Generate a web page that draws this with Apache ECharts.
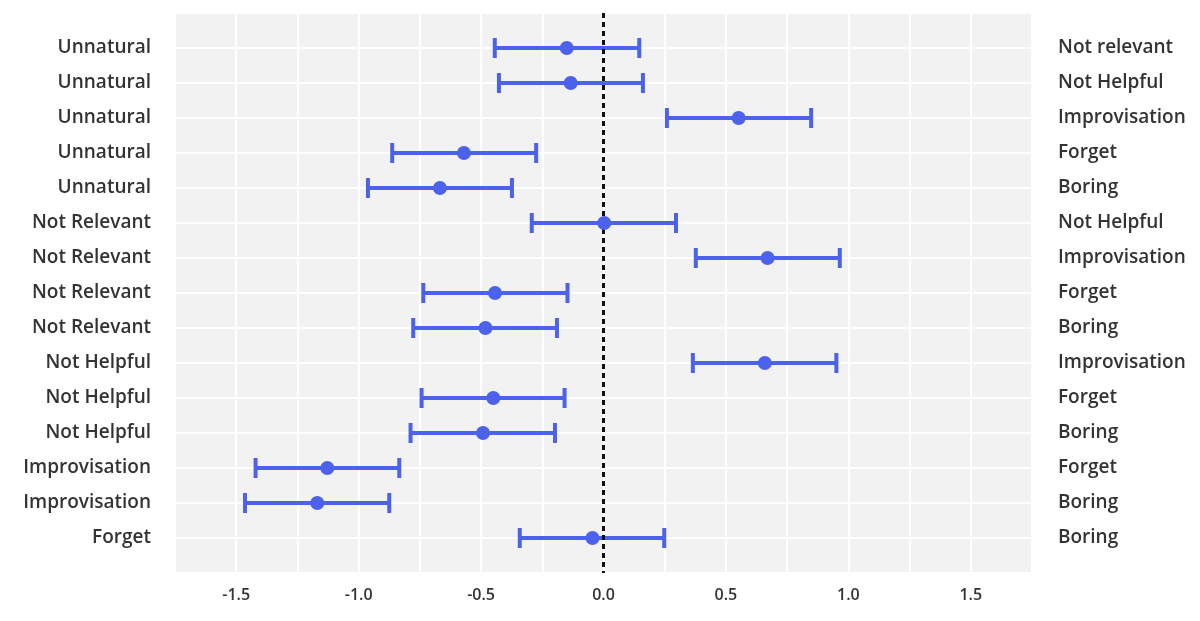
<!DOCTYPE html>
<html>
<head>
<meta charset="utf-8">
<script src="https://cdn.jsdelivr.net/npm/echarts@6/dist/echarts.min.js"></script>
<style>html,body{margin:0;padding:0;background:#fff}#c{width:1200px;height:621px}</style>
</head>
<body>
<div id="c"></div>
<script>
const leftLabels = ["Unnatural","Unnatural","Unnatural","Unnatural","Unnatural","Not Relevant","Not Relevant","Not Relevant","Not Relevant","Not Helpful","Not Helpful","Not Helpful","Improvisation","Improvisation","Forget"];
const rightLabels = ["Not relevant","Not Helpful","Improvisation","Forget","Boring","Not Helpful","Improvisation","Forget","Boring","Improvisation","Forget","Boring","Forget","Boring","Boring"];
const estimates = [-0.150,-0.134,0.552,-0.570,-0.668,0.003,0.670,-0.443,-0.482,0.659,-0.450,-0.492,-1.128,-1.169,-0.045];
const lower = [-0.444,-0.427,0.259,-0.863,-0.962,-0.293,0.377,-0.736,-0.777,0.365,-0.743,-0.788,-1.421,-1.464,-0.342];
const upper = [0.146,0.161,0.848,-0.275,-0.374,0.296,0.965,-0.147,-0.190,0.951,-0.159,-0.198,-0.834,-0.875,0.248];

const BLUE = '#4d62ec';
const FONT = "'Open Sans', 'Noto Sans', sans-serif";

const pointData = estimates.map((v, i) => [v, i]);
const barData = estimates.map((v, i) => [lower[i], upper[i], i]);

const chart = echarts.init(document.getElementById('c'), null, {renderer: 'canvas'});
const yLabel = (arr) => (v) => {
  const i = Math.round(v);
  return (Math.abs(v - i) < 1e-6 && i >= 0 && i < arr.length) ? arr[i] : '';
};
chart.setOption({
  animation: false,
  backgroundColor: '#ffffff',
  grid: {left: 175, right: 168, top: 13, bottom: 48, show: true, backgroundColor: '#f2f2f2', borderWidth: 0, containLabel: false},
  xAxis: {
    type: 'value', min: -1.75, max: 1.75, interval: 0.25,
    axisLine: {show: false}, axisTick: {show: false},
    splitLine: {show: true, lineStyle: {color: '#ffffff', width: 2}},
    axisLabel: {
      color: '#333', fontSize: 16, fontFamily: FONT, fontWeight: 600, margin: 14,
      formatter: (v) => {
        const d = v * 2;
        if (Math.abs(d - Math.round(d)) < 1e-6 && Math.abs(v) < 1.7) return v.toFixed(1);
        return '';
      }
    }
  },
  yAxis: [
    {
      type: 'value', min: -1, max: 15, interval: 1, inverse: true, position: 'left',
      axisLine: {show: false}, axisTick: {show: false},
      splitLine: {show: true, lineStyle: {color: '#ffffff', width: 2}},
      axisLabel: {color: '#333', fontSize: 19, fontFamily: FONT, fontWeight: 600, margin: 24, padding: [3, 0, 0, 0], formatter: yLabel(leftLabels)}
    },
    {
      type: 'value', min: -1, max: 15, interval: 1, inverse: true, position: 'right',
      axisLine: {show: false}, axisTick: {show: false}, splitLine: {show: false},
      axisLabel: {color: '#333', fontSize: 19, fontFamily: FONT, fontWeight: 600, margin: 26, padding: [3, 0, 0, 0], align: 'left', formatter: yLabel(rightLabels)}
    }
  ],
  series: [
    {
      type: 'custom',
      yAxisIndex: 0,
      data: barData,
      renderItem: (params, api) => {
        const lo = api.coord([api.value(0), api.value(2)]);
        const hi = api.coord([api.value(1), api.value(2)]);
        const h = 10;
        const style = {stroke: BLUE, lineWidth: 4, fill: null};
        return {
          type: 'group',
          children: [
            {type: 'line', shape: {x1: lo[0], y1: lo[1], x2: hi[0], y2: hi[1]}, style},
            {type: 'line', shape: {x1: lo[0], y1: lo[1] - h, x2: lo[0], y2: lo[1] + h}, style},
            {type: 'line', shape: {x1: hi[0], y1: hi[1] - h, x2: hi[0], y2: hi[1] + h}, style}
          ]
        };
      },
      z: 3
    },
    {
      type: 'scatter',
      yAxisIndex: 0,
      data: pointData,
      symbol: 'circle',
      symbolSize: 14,
      itemStyle: {color: BLUE, opacity: 1},
      z: 5,
      markLine: {
        silent: true,
        symbol: 'none',
        label: {show: false},
        lineStyle: {color: '#111', type: [5, 4], width: 3},
        data: [{xAxis: 0}],
        z: 4
      }
    }
  ]
});
</script>
</body>
</html>
